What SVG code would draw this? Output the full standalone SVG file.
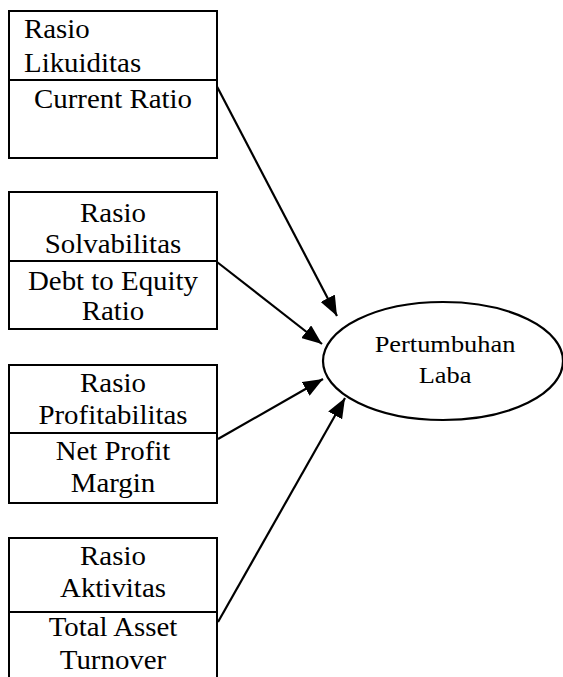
<svg xmlns="http://www.w3.org/2000/svg" width="563" height="677" viewBox="0 0 563 677">
  <style>
    .box { fill: #ffffff; stroke: #000000; stroke-width: 2; }
    .div { stroke: #000000; stroke-width: 2; }
    .lbl { font-family: "Liberation Serif", "Times New Roman", serif; font-size: 27px; fill: #000000; }
    .mid { text-anchor: middle; }
    .oval { fill: #ffffff; stroke: #000000; stroke-width: 2.2; }
    .olbl { font-family: "Liberation Serif", "Times New Roman", serif; font-size: 24px; fill: #000000; text-anchor: middle; }
    .edge { stroke: #000000; stroke-width: 2.2; fill: none; marker-end: url(#head); }
  </style>
  <defs>
    <marker id="head" markerUnits="userSpaceOnUse" markerWidth="22" markerHeight="16" refX="20" refY="8" orient="auto">
      <path d="M0,0 L20,8 L0,16 Z" fill="#000000"/>
    </marker>
  </defs>
  <rect width="563" height="677" fill="#ffffff"/>

  <!-- connectors -->
  <g id="connectors">
    <line class="edge" x1="212" y1="77" x2="337" y2="316"/>
    <line class="edge" x1="217" y1="262" x2="322" y2="344"/>
    <line class="edge" x1="218" y1="439" x2="323" y2="379"/>
    <line class="edge" x1="218" y1="622" x2="345" y2="398"/>
  </g>

  <!-- liquidity ratio box -->
  <g id="node-likuiditas">
    <rect class="box" x="9" y="11" width="208" height="147"/>
    <line class="div" x1="9" y1="80" x2="217" y2="80"/>
    <g transform="matrix(1.07 0 0 1 24 0)">
      <text class="lbl" x="0" y="38">Rasio</text>
      <text class="lbl" x="0" y="72">Likuiditas</text>
    </g>
    <g transform="matrix(1.07 0 0 1 113 0)">
      <text class="lbl mid" x="0" y="108">Current Ratio</text>
    </g>
  </g>

  <!-- solvency ratio box -->
  <g id="node-solvabilitas">
    <rect class="box" x="9" y="192" width="208" height="137"/>
    <line class="div" x1="9" y1="261" x2="217" y2="261"/>
    <g transform="matrix(1.07 0 0 1 113 0)">
      <text class="lbl mid" x="0" y="222">Rasio</text>
      <text class="lbl mid" x="0" y="253">Solvabilitas</text>
      <text class="lbl mid" x="0" y="290">Debt to Equity</text>
      <text class="lbl mid" x="0" y="320">Ratio</text>
    </g>
  </g>

  <!-- profitability ratio box -->
  <g id="node-profitabilitas">
    <rect class="box" x="9" y="365" width="208" height="138"/>
    <line class="div" x1="9" y1="433" x2="217" y2="433"/>
    <g transform="matrix(1.07 0 0 1 113 0)">
      <text class="lbl mid" x="0" y="392">Rasio</text>
      <text class="lbl mid" x="0" y="424">Profitabilitas</text>
      <text class="lbl mid" x="0" y="460">Net Profit</text>
      <text class="lbl mid" x="0" y="492">Margin</text>
    </g>
  </g>

  <!-- activity ratio box (runs past the bottom edge) -->
  <g id="node-aktivitas">
    <rect class="box" x="9" y="538" width="208" height="150"/>
    <line class="div" x1="9" y1="612" x2="217" y2="612"/>
    <g transform="matrix(1.07 0 0 1 113 0)">
      <text class="lbl mid" x="0" y="565">Rasio</text>
      <text class="lbl mid" x="0" y="597">Aktivitas</text>
      <text class="lbl mid" x="0" y="636">Total Asset</text>
      <text class="lbl mid" x="0" y="669">Turnover</text>
    </g>
  </g>

  <!-- profit growth -->
  <g id="node-pertumbuhan-laba">
    <ellipse class="oval" cx="443" cy="361" rx="120" ry="59"/>
    <g transform="matrix(1.1 0 0 1 445 0)">
      <text class="olbl" x="0" y="352">Pertumbuhan</text>
      <text class="olbl" x="0" y="383">Laba</text>
    </g>
  </g>
</svg>
